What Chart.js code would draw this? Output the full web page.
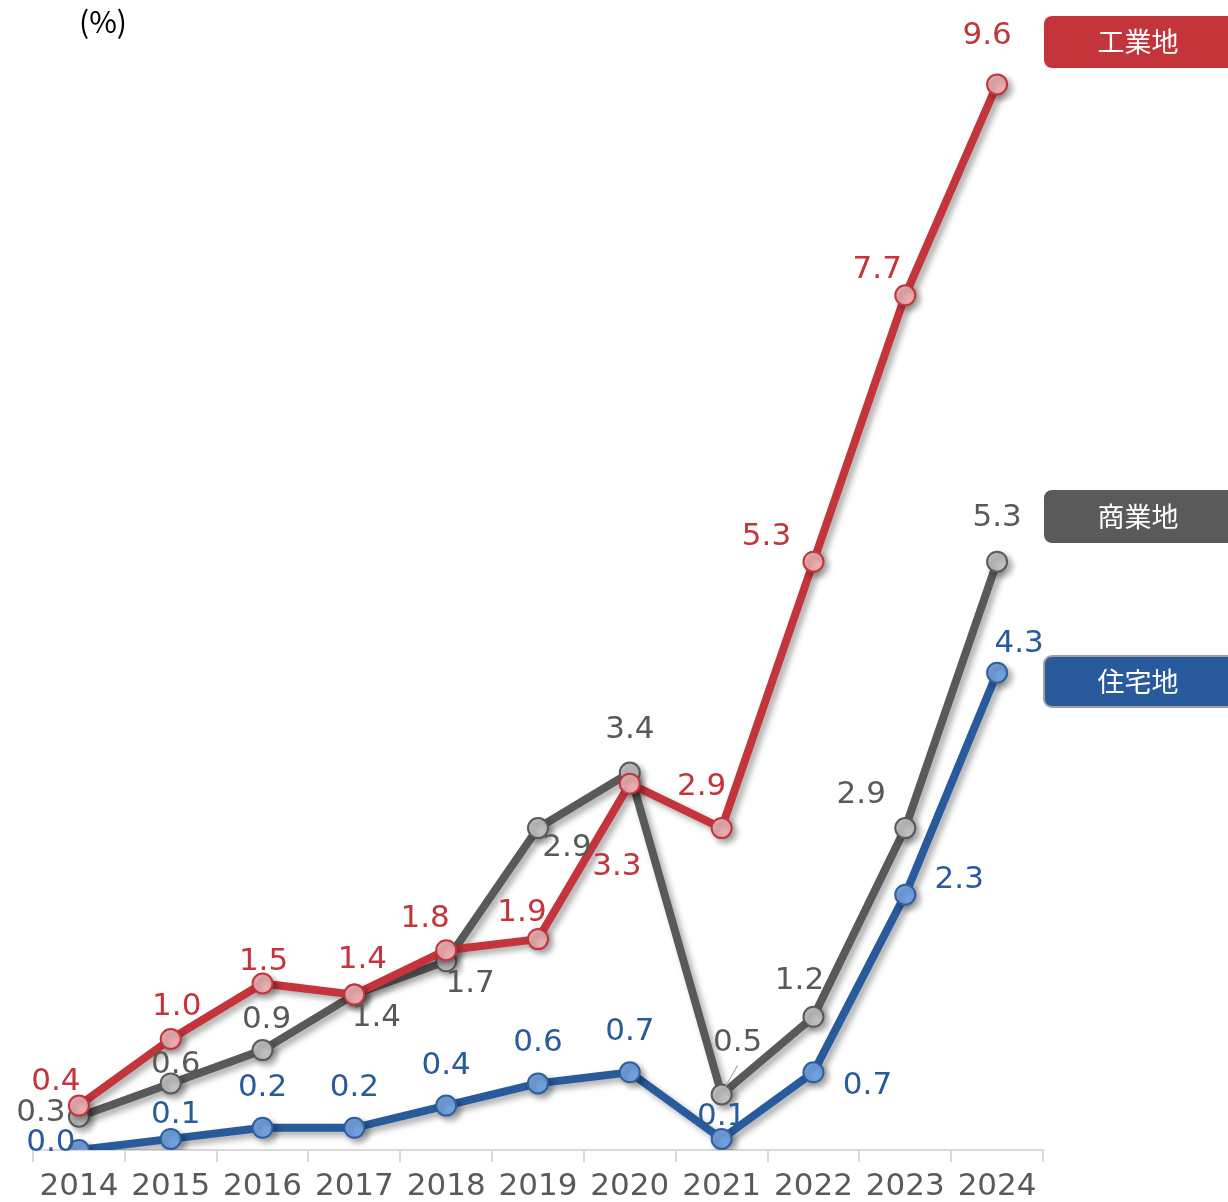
<!DOCTYPE html>
<html>
<head>
<meta charset="utf-8">
<script src="https://cdn.jsdelivr.net/npm/chart.js@4/dist/chart.umd.min.js"></script>
<style>
html,body{margin:0;padding:0;background:#fff;}
#wrap{width:1228px;height:1202px;position:relative;}
</style>
</head>
<body>
<div id="wrap"><canvas id="c" width="1228" height="1202"></canvas></div>
<script>
const years = ['2014','2015','2016','2017','2018','2019','2020','2021','2022','2023','2024'];
const industrial = [0.4, 1.0, 1.5, 1.4, 1.8, 1.9, 3.3, 2.9, 5.3, 7.7, 9.6];
const commercial = [0.3, 0.6, 0.9, 1.4, 1.7, 2.9, 3.4, 0.5, 1.2, 2.9, 5.3];
const residential = [0.0, 0.1, 0.2, 0.2, 0.4, 0.6, 0.7, 0.1, 0.7, 2.3, 4.3];
const seriesNames = ['工業地', '商業地', '住宅地'];

// label offsets (styling only)
const offIndustrial = [[-23,-27],[6,-35],[1,-25],[8,-38],[-21,-34],[-16,-29],[-13,80],[-20,-44],[-47,-28],[-28,-28],[-10,-51]];
const offCommercial = [[-38,-7],[5,-21],[4,-33],[22,20],[24,20],[29,17],[0,-46],[16,-55],[-14,-39],[-44,-36],[0,-47]];
const offResidential = [[-28,-10],[5,-27],[0,-43],[0,-43],[0,-43],[0,-43],[0,-43],[0,-25],[54,11],[54,-18],[22,-32]];

const RED='#C3343B', GRAY='#595959', BLUE='#285A9C';
const FONT='"DejaVu Sans", Verdana, sans-serif';

const shadowPlugin = {
  id:'shadow',
  beforeDatasetDraw(chart){
    const ctx=chart.ctx; ctx.save();
    ctx.shadowColor='rgba(0,0,0,0.33)'; ctx.shadowBlur=6; ctx.shadowOffsetX=4; ctx.shadowOffsetY=4;
  },
  afterDatasetDraw(chart){ chart.ctx.restore(); }
};

const labelPlugin = {
  id:'labels',
  afterDatasetsDraw(chart){
    const ctx=chart.ctx;
    const offs=[offIndustrial, offCommercial, offResidential];
    const cols=[RED, GRAY, BLUE];
    ctx.save();
    ctx.font='31px '+FONT;
    ctx.textAlign='center'; ctx.textBaseline='middle';
    chart.data.datasets.forEach((ds,di)=>{
      const meta=chart.getDatasetMeta(di);
      meta.data.forEach((pt,i)=>{
        const o=offs[di][i];
        ctx.fillStyle=cols[di];
        ctx.fillText(ds.data[i].toFixed(1), pt.x+o[0], pt.y+o[1]+3);
      });
    });
    // leader line for commercial 2021
    const p=chart.getDatasetMeta(1).data[7];
    ctx.strokeStyle='#A6A6A6'; ctx.lineWidth=1.2;
    ctx.beginPath(); ctx.moveTo(p.x+2,p.y-5); ctx.lineTo(p.x+16,p.y-29); ctx.stroke();

    // legend boxes
    const boxes=[
      {name:seriesNames[0], fill:RED, y:16, h:52, border:null},
      {name:seriesNames[1], fill:'#5A5A5A', y:490, h:53, border:null},
      {name:seriesNames[2], fill:'#285A9C', y:656, h:51, border:'#A0A0A0'}
    ];
    boxes.forEach(b=>{
      const x=1044, w=200, r=8;
      ctx.beginPath();
      ctx.roundRect(x,b.y,w,b.h,r);
      ctx.fillStyle=b.fill; ctx.fill();
      if(b.border){ctx.strokeStyle=b.border; ctx.lineWidth=2; ctx.stroke();}
      ctx.fillStyle='#fff';
      ctx.font='27px "Noto Sans CJK JP", sans-serif';
      ctx.textAlign='center'; ctx.textBaseline='middle';
      ctx.fillText(b.name, 1138, b.y+b.h/2);
    });
    // unit
    ctx.fillStyle='#000';
    ctx.font='30px "Noto Sans CJK JP", sans-serif';
    ctx.textAlign='left'; ctx.textBaseline='middle';
    ctx.fillText('(%)', 79, 22);
    ctx.restore();
  }
};

function ds(label, data, line, fill, border){
  return {label, data, borderColor:line, borderWidth:8, pointRadius:10, pointHoverRadius:10,
    pointBackgroundColor:fill, pointBorderColor:border, pointBorderWidth:2, tension:0, fill:false};
}

new Chart(document.getElementById('c'), {
  type:'line',
  data:{
    labels:years,
    datasets:[
      ds(seriesNames[0], industrial, RED, '#EBADB0', RED),
      ds(seriesNames[1], commercial, GRAY, '#C0C0C0', '#5A5A5A'),
      ds(seriesNames[2], residential, BLUE, '#72A2DE', '#2F5FA0')
    ]
  },
  options:{
    responsive:false, animation:false,
    layout:{padding:{left:33, right:185, top:40, bottom:0}},
    plugins:{legend:{display:false}, tooltip:{enabled:false}},
    scales:{
      x:{
        offset:true,
        grid:{offset:true, drawOnChartArea:false, drawTicks:true, tickLength:12, color:'#D9D9D9', lineWidth:2},
        border:{display:true, color:'#D9D9D9', width:2},
        ticks:{color:'#595959', font:{family:FONT, size:31}, maxRotation:0, autoSkip:false, padding:6},
        afterFit(s){ s.height=52; }
      },
      y:{display:false, min:0, max:10}
    }
  },
  plugins:[shadowPlugin, labelPlugin]
});
</script>
</body>
</html>
